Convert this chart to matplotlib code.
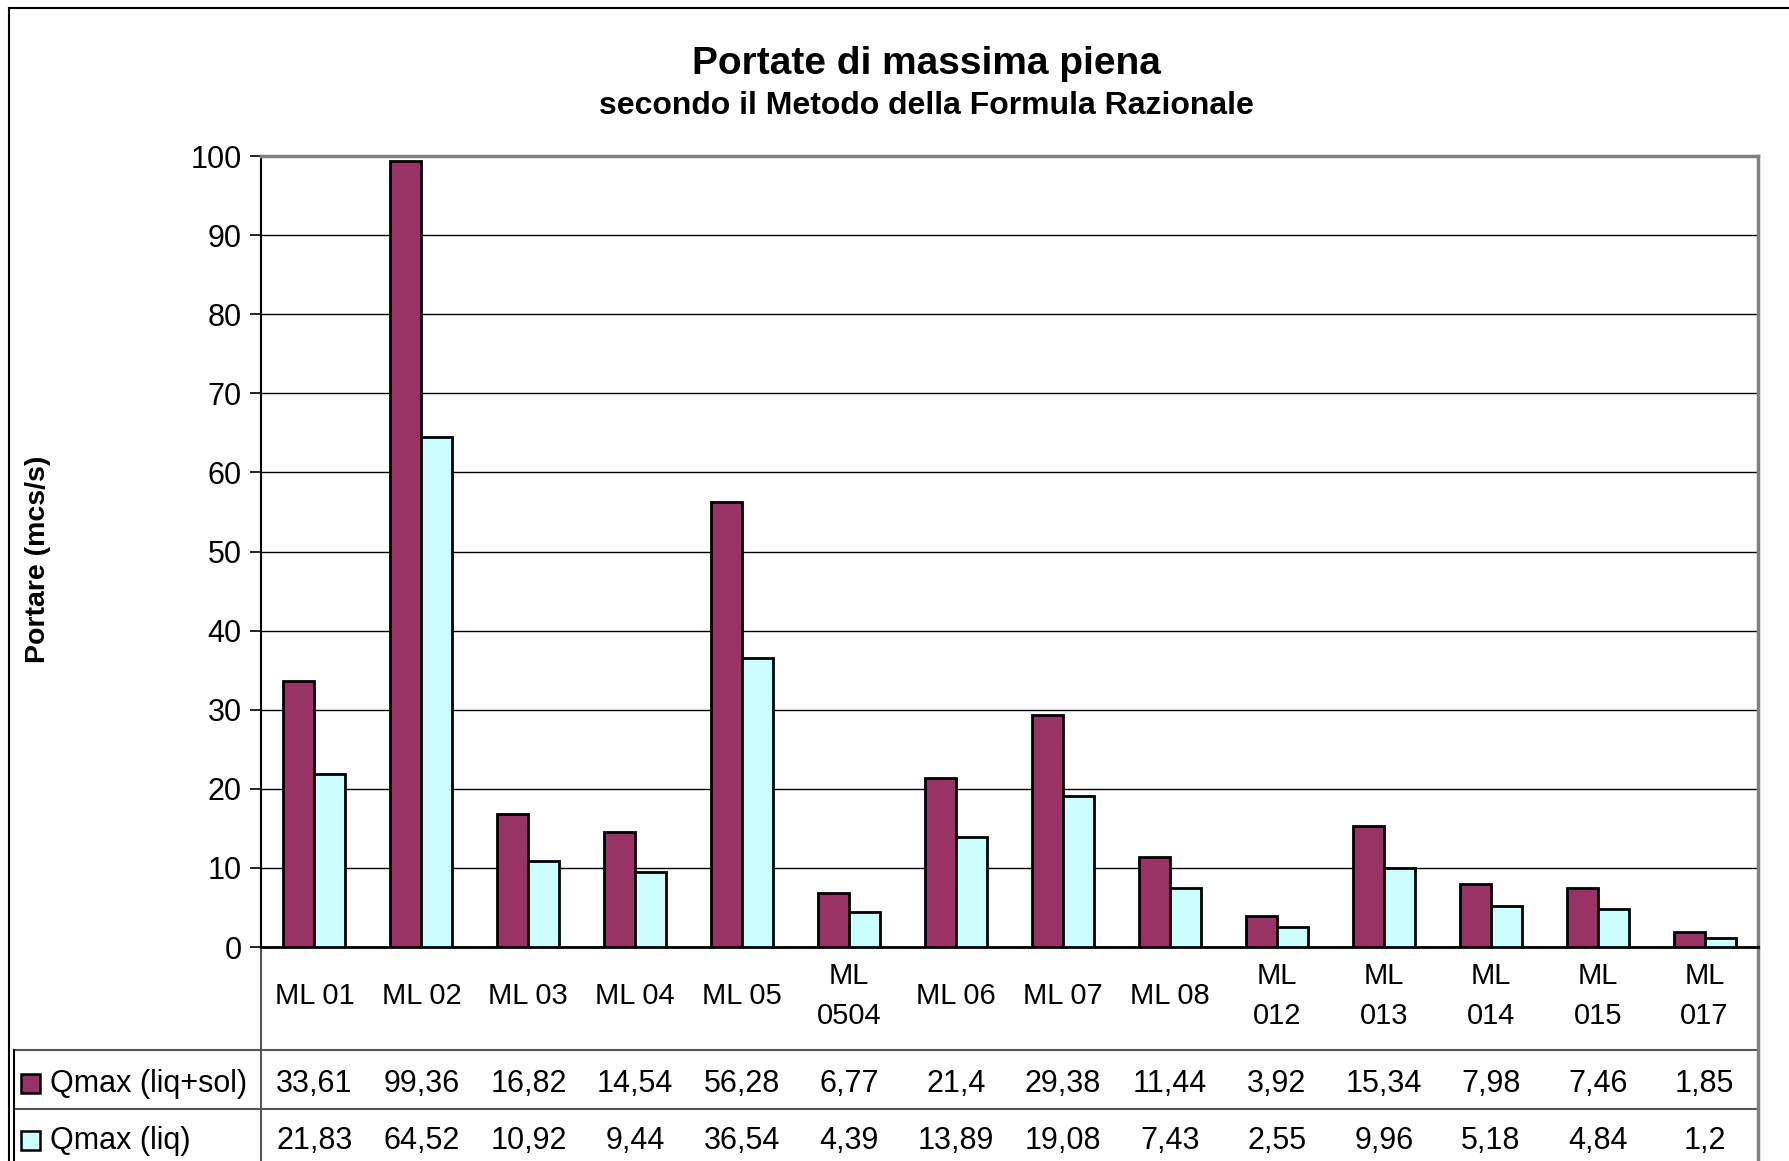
import numpy as np
import matplotlib
matplotlib.use("Agg")
import matplotlib.pyplot as plt
from matplotlib.lines import Line2D
from matplotlib.patches import Rectangle

plt.rcParams['font.family'] = ['Liberation Sans', 'DejaVu Sans']

categories = ["ML 01", "ML 02", "ML 03", "ML 04", "ML 05", "ML\n0504", "ML 06",
              "ML 07", "ML 08", "ML\n012", "ML\n013", "ML\n014", "ML\n015", "ML\n017"]
q_liq_sol = [33.61, 99.36, 16.82, 14.54, 56.28, 6.77, 21.4, 29.38, 11.44, 3.92,
             15.34, 7.98, 7.46, 1.85]
q_liq = [21.83, 64.52, 10.92, 9.44, 36.54, 4.39, 13.89, 19.08, 7.43, 2.55,
         9.96, 5.18, 4.84, 1.2]
series_names = ["Qmax (liq+sol)", "Qmax (liq)"]
colors = ["#993366", "#CCFFFF"]


def fmt(v):
    s = ("%.2f" % v).rstrip("0").rstrip(".")
    return s.replace(".", ",")


fig = plt.figure(figsize=(17.89, 11.61), dpi=100)
ax = fig.add_axes([0.1459, 0.1843, 0.8368, 0.6813])

x = np.arange(len(categories))
w = 0.29
ax.bar(x - w / 2, q_liq_sol, w, color=colors[0], edgecolor="black", linewidth=2, zorder=3)
ax.bar(x + w / 2, q_liq, w, color=colors[1], edgecolor="black", linewidth=2, zorder=3)

ax.set_xlim(-0.5, len(categories) - 0.5)
ax.set_ylim(0, 100)
ax.set_yticks(np.arange(0, 101, 10))
ax.tick_params(axis="y", labelsize=22, length=8, width=1.2, direction="out", pad=6)
ax.set_xticks([])
ax.yaxis.grid(True, color="black", linewidth=1.0, zorder=0)

ax.spines["top"].set_color("#808080")
ax.spines["top"].set_linewidth(2.5)
ax.spines["right"].set_color("#808080")
ax.spines["right"].set_linewidth(2.5)
ax.spines["left"].set_linewidth(1.5)
ax.spines["bottom"].set_linewidth(2)

tr = ax.get_xaxis_transform()
# category labels, vertically centred in their row
for xi, lab in zip(x, categories):
    ax.text(xi, -0.062, lab, transform=tr, ha="center", va="center", fontsize=21,
            linespacing=1.55, clip_on=False)

# data table below the chart
tl = -0.165
row_lines = [-0.130, -0.205]
for yl in row_lines:
    ax.add_line(Line2D([tl, 1.0], [yl, yl], transform=ax.transAxes, color="#555555",
                       linewidth=1.5, clip_on=False))
ax.add_line(Line2D([0, 0], [0, -0.3], transform=ax.transAxes, color="#555555",
                   linewidth=1.5, clip_on=False))
ax.add_line(Line2D([1.0, 1.0], [0, -0.3], transform=ax.transAxes, color="#808080",
                   linewidth=2.5, clip_on=False))
ax.add_line(Line2D([tl, tl], [row_lines[0], -0.3], transform=ax.transAxes, color="black",
                   linewidth=1.5, clip_on=False))

row_y = [-0.173, -0.245]
for vals, ry, name, c in zip([q_liq_sol, q_liq], row_y, series_names, colors):
    for xi, v in zip(x, vals):
        ax.text(xi, ry, fmt(v), transform=tr, ha="center", va="center", fontsize=22,
                clip_on=False)
    ax.add_patch(Rectangle((-0.160, ry - 0.012), 0.0125, 0.024, transform=ax.transAxes,
                           facecolor=c, edgecolor="black", linewidth=1.8, clip_on=False))
    ax.text(-0.141, ry, name, transform=ax.transAxes, ha="left", va="center", fontsize=22)

# outer chart frame (top and left edges visible)
fig.add_artist(Line2D([0.005, 1.0], [0.993, 0.993], transform=fig.transFigure,
                      color="black", linewidth=1.5))
fig.add_artist(Line2D([0.005, 0.005], [0.0, 0.993], transform=fig.transFigure,
                      color="black", linewidth=1.5))

fig.text(0.518, 0.945, "Portate di massima piena", ha="center", va="center",
         fontsize=28, fontweight="bold")
fig.text(0.518, 0.909, "secondo il Metodo della Formula Razionale", ha="center",
         va="center", fontsize=23, fontweight="bold")
fig.text(0.021, 0.518, "Portare (mcs/s)", rotation=90, ha="center", va="center",
         fontsize=20.5, fontweight="bold")

fig.savefig("out.png", dpi=100, facecolor="white")
